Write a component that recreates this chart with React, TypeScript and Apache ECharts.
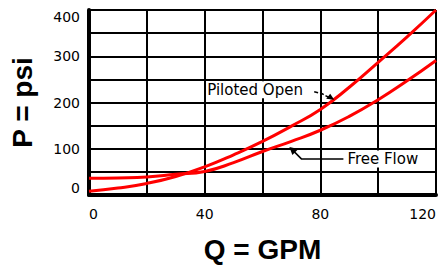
import React, { useEffect, useRef } from "react";
import * as echarts from "echarts";

const flowGPM = [0, 10, 20, 30, 40, 50, 60, 70, 80, 90, 100, 110, 120];
const pilotedOpenPsi = [8, 15, 25, 40, 61, 87, 116, 149, 185, 233, 287, 342, 400];
const freeFlowPsi = [36, 37, 39, 45, 51, 70, 94, 116, 140, 170, 206, 247, 291];
const xLabelTicks = [0, 40, 80, 120];
const yLabelTicks = [0, 100, 200, 300, 400];

const pilotedArrowTip = [84.8, 206];
const freeArrowTip = [69.3, 104];

export default function App() {
  const ref = useRef<HTMLDivElement>(null);
  useEffect(() => {
    if (!ref.current) return;
    const chart = echarts.init(ref.current, undefined, { renderer: "svg" });
    const tickFont = "DejaVu Sans";
    chart.setOption({
      animation: false,
      backgroundColor: "#ffffff",
      grid: { left: 81, top: 10, right: 3, bottom: 64, containLabel: false },
      xAxis: {
        type: "value",
        min: 0,
        max: 120,
        interval: 20,
        name: "Q = GPM",
        nameLocation: "middle",
        nameGap: 40,
        nameTextStyle: { fontFamily: "Liberation Sans", fontWeight: "bold", fontSize: 28, color: "#000" },
        axisLine: { show: true, lineStyle: { color: "#000", width: 4 } },
        axisTick: { show: false },
        splitLine: { show: true, lineStyle: { color: "#000", width: 2 } },
        axisLabel: {
          margin: 12,
          fontFamily: tickFont,
          fontSize: 14,
          color: "#000",
          alignMinLabel: "left",
          alignMaxLabel: "right",
          formatter: (v: number) => (xLabelTicks.includes(v) ? String(v) : ""),
        },
      },
      yAxis: {
        type: "value",
        min: 0,
        max: 400,
        interval: 50,
        name: "P = psi",
        nameLocation: "middle",
        nameGap: 53,
        nameRotate: 90,
        nameTextStyle: { fontFamily: "Liberation Sans", fontWeight: "bold", fontSize: 28, color: "#000" },
        axisLine: { show: true, lineStyle: { color: "#000", width: 4 } },
        axisTick: { show: false },
        splitLine: { show: true, lineStyle: { color: "#000", width: 2 } },
        axisLabel: {
          margin: 9,
          fontFamily: tickFont,
          fontSize: 14,
          color: "#000",
          verticalAlignMinLabel: "bottom",
          verticalAlignMaxLabel: "top",
          formatter: (v: number) => (yLabelTicks.includes(v) ? String(v) : ""),
        },
      },
      series: [
        {
          name: "Piloted Open",
          type: "line",
          smooth: true,
          showSymbol: false,
          lineStyle: { color: "#ff0000", width: 3 },
          data: flowGPM.map((q, i) => [q, pilotedOpenPsi[i]]),
          z: 5,
        },
        {
          name: "Free Flow",
          type: "line",
          smooth: true,
          showSymbol: false,
          lineStyle: { color: "#ff0000", width: 3 },
          data: flowGPM.map((q, i) => [q, freeFlowPsi[i]]),
          z: 5,
        },
      ],
    });

    const pt = chart.convertToPixel({ gridIndex: 0 }, pilotedArrowTip) as number[];
    const ft = chart.convertToPixel({ gridIndex: 0 }, freeArrowTip) as number[];
    const annFont = "15px DejaVu Sans";
    chart.setOption({
      graphic: [
        {
          type: "text",
          x: pt[0] - 128,
          y: pt[1] - 10,
          style: {
            text: "Piloted Open",
            font: annFont,
            fill: "#000",
            backgroundColor: "#fff",
            padding: [1, 2, 1, 1],
            verticalAlign: "middle",
          },
          z: 20,
        },
        {
          type: "polyline",
          shape: { points: [[pt[0] - 20, pt[1] - 8], [pt[0] - 12, pt[1] - 6], [pt[0] - 3, pt[1] - 1]] },
          style: { stroke: "#000", lineWidth: 1.5, lineDash: [4, 2], fill: "none" },
          z: 20,
        },
        {
          type: "polygon",
          shape: { points: [[pt[0], pt[1]], [pt[0] - 8, pt[1] - 1], [pt[0] - 4, pt[1] - 6]] },
          style: { fill: "#000" },
          z: 20,
        },
        {
          type: "polyline",
          shape: { points: [[ft[0] + 4, ft[1] + 4], [ft[0] + 12, ft[1] + 12], [ft[0] + 54, ft[1] + 12]] },
          style: { stroke: "#000", lineWidth: 1.5, fill: "none" },
          z: 20,
        },
        {
          type: "polygon",
          shape: { points: [[ft[0], ft[1]], [ft[0] + 9, ft[1] + 2], [ft[0] + 3, ft[1] + 8]] },
          style: { fill: "#000" },
          z: 20,
        },
        {
          type: "text",
          x: ft[0] + 57,
          y: ft[1] + 12,
          style: {
            text: "Free Flow",
            font: annFont,
            fill: "#000",
            backgroundColor: "#fff",
            padding: [1, 3, 1, 1],
            verticalAlign: "middle",
          },
          z: 20,
        },
      ],
    });

    return () => chart.dispose();
  }, []);
  return <div ref={ref} style={{ width: 439, height: 268, position: "absolute", left: 0, top: 0 }} />;
}
